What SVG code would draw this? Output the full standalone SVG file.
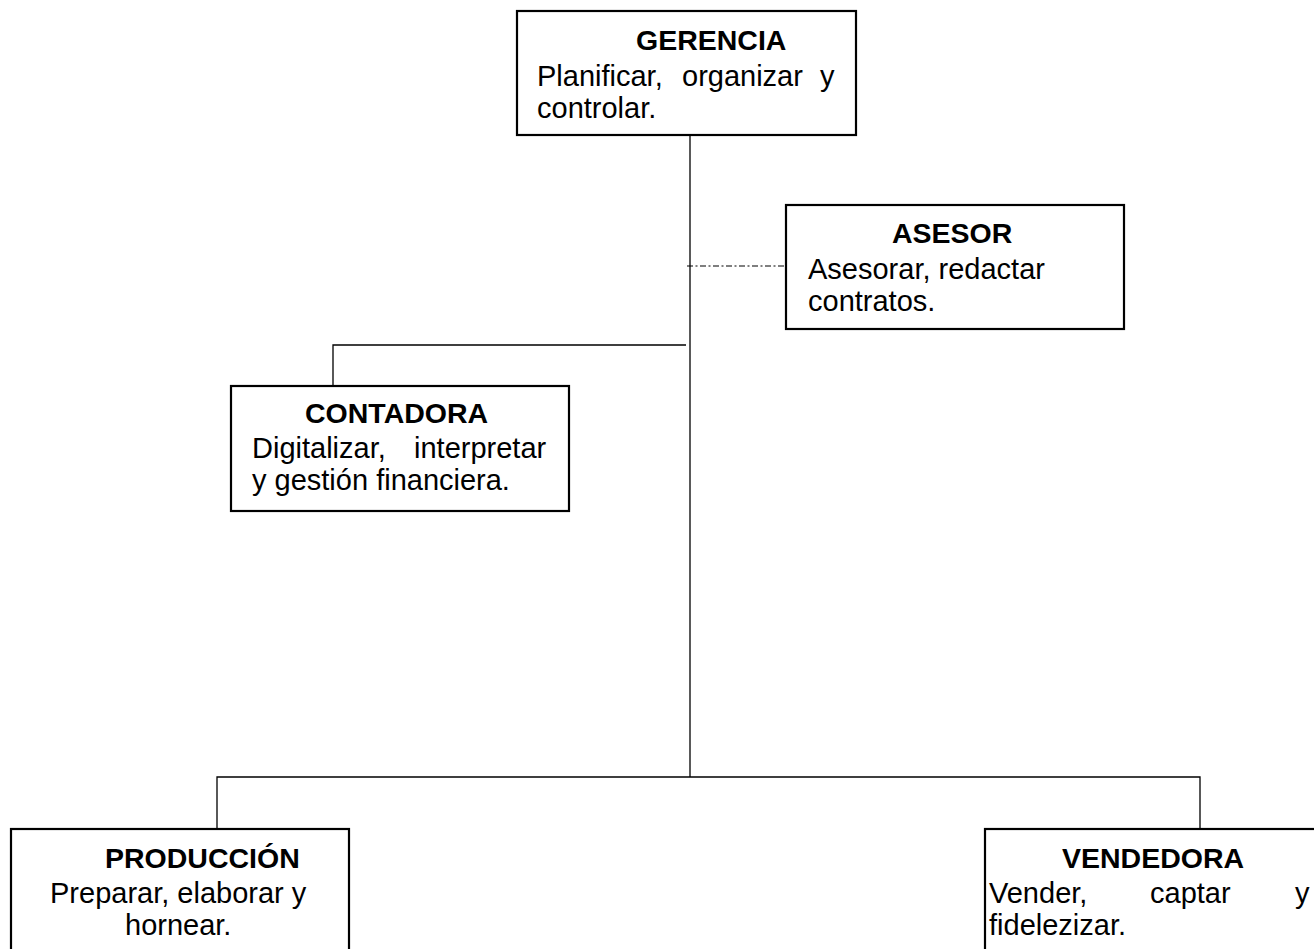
<svg xmlns="http://www.w3.org/2000/svg" width="1314" height="949" viewBox="0 0 1314 949">
<style>
.box{fill:#fff;stroke:#000;stroke-width:2.2}
.ln{fill:none;stroke:#000;stroke-width:1.3}
.dash{fill:none;stroke:#000;stroke-width:1.2;stroke-dasharray:6 2.5 2 2.5}
text{font-family:"Liberation Sans",Arial,sans-serif;font-size:29px;fill:#000}
.t{font-weight:bold;font-size:28.5px}
</style>
<rect width="1314" height="949" fill="#fff"/>
<g id="connectors">
<path class="ln" d="M690 135 V777"/>
<path class="ln" d="M217 829 V777 H1200 V829"/>
<path class="ln" d="M686 345 H333 V386"/>
<path class="dash" d="M687 266 H786"/>
</g>
<g id="gerencia">
<rect class="box" x="517" y="11" width="339" height="124"/>
<text class="t" x="636" y="50">GERENCIA</text>
<text y="86"><tspan x="537">Planificar,</tspan><tspan x="682">organizar</tspan><tspan x="820">y</tspan></text>
<text x="537" y="118">controlar.</text>
</g>
<g id="asesor">
<rect class="box" x="786" y="205" width="338" height="124"/>
<text class="t" x="892" y="243">ASESOR</text>
<text x="808" y="279">Asesorar, redactar</text>
<text x="808" y="311">contratos.</text>
</g>
<g id="contadora">
<rect class="box" x="231" y="386" width="338" height="125"/>
<text class="t" x="305" y="423">CONTADORA</text>
<text y="458"><tspan x="252">Digitalizar,</tspan><tspan x="414">interpretar</tspan></text>
<text x="252" y="490">y gestión financiera.</text>
</g>
<g id="produccion">
<rect class="box" x="11" y="829" width="338" height="130"/>
<text class="t" x="105" y="868">PRODUCCIÓN</text>
<text x="50" y="903">Preparar, elaborar y</text>
<text x="125" y="935">hornear.</text>
</g>
<g id="vendedora">
<rect class="box" x="985" y="829" width="340" height="130"/>
<text class="t" x="1062" y="868">VENDEDORA</text>
<text y="903"><tspan x="989">Vender,</tspan><tspan x="1150">captar</tspan><tspan x="1295">y</tspan></text>
<text x="989" y="935">fidelezizar.</text>
</g>
</svg>
